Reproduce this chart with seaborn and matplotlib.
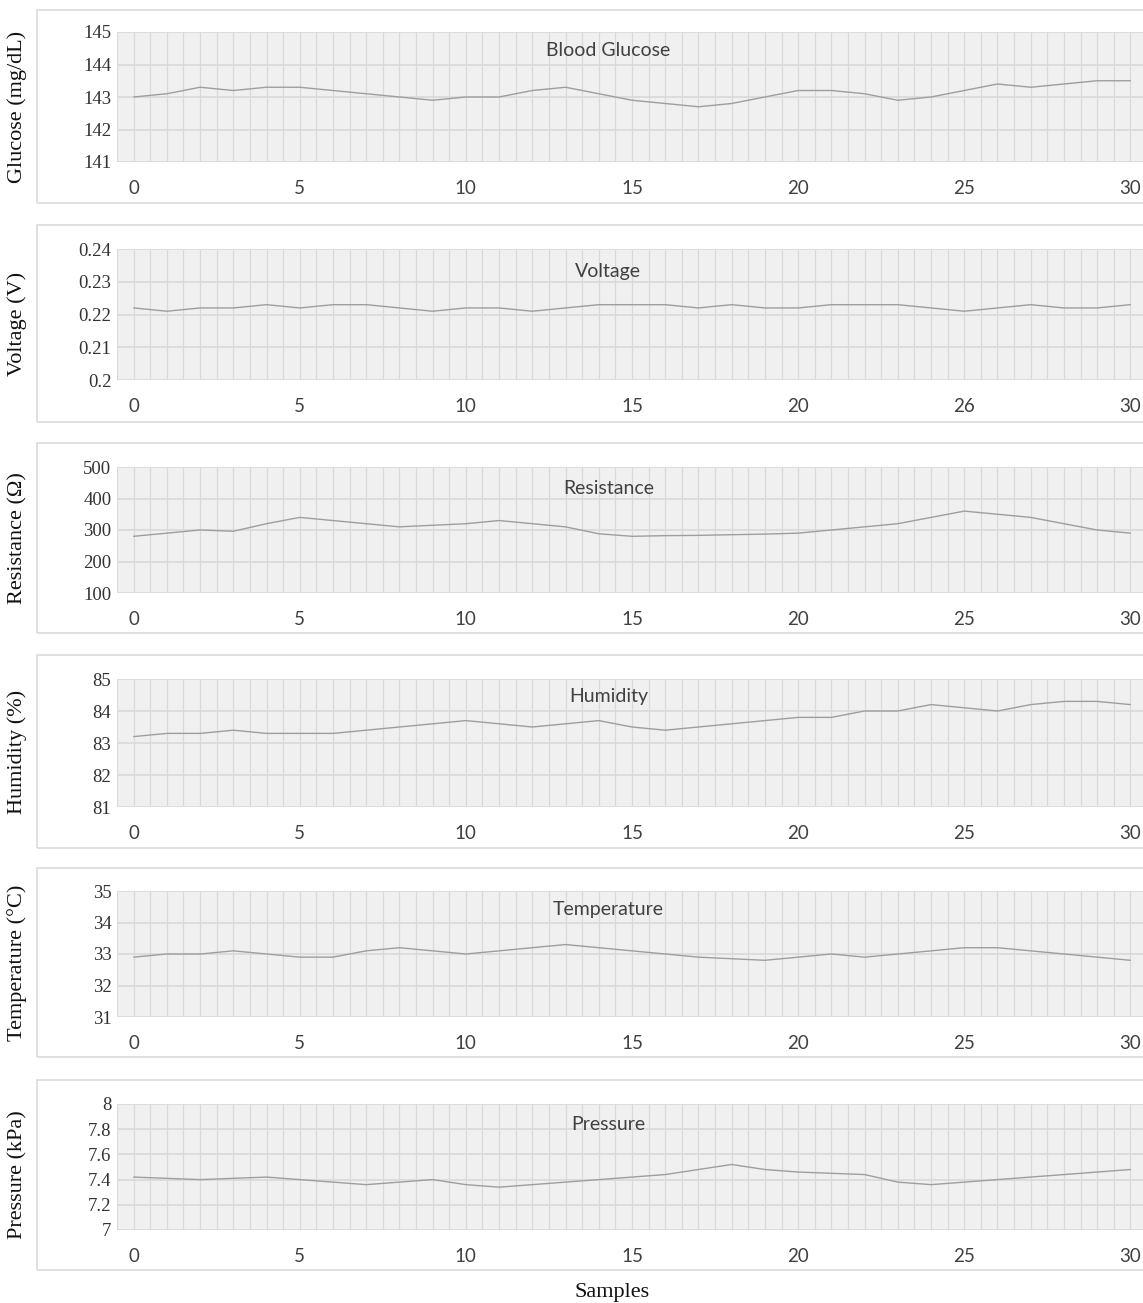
import numpy as np
import pandas as pd
import matplotlib
matplotlib.use("Agg")
import matplotlib.pyplot as plt
from matplotlib.patches import Rectangle
import seaborn as sns

# ---- data -------------------------------------------------------------
samples = list(range(31))

glucose = [143.0, 143.1, 143.3, 143.2, 143.3, 143.3, 143.2, 143.1, 143.0, 142.9,
           143.0, 143.0, 143.2, 143.3, 143.1, 142.9, 142.8, 142.7, 142.8, 143.0,
           143.2, 143.2, 143.1, 142.9, 143.0, 143.2, 143.4, 143.3, 143.4, 143.5, 143.5]
voltage = [0.222, 0.221, 0.222, 0.222, 0.223, 0.222, 0.223, 0.223, 0.222, 0.221,
           0.222, 0.222, 0.221, 0.222, 0.223, 0.223, 0.223, 0.222, 0.223, 0.222,
           0.222, 0.223, 0.223, 0.223, 0.222, 0.221, 0.222, 0.223, 0.222, 0.222, 0.223]
resistance = [280, 290, 300, 296, 320, 340, 330, 320, 310, 315,
              320, 330, 320, 310, 288, 280, 282, 283, 285, 287,
              290, 300, 310, 320, 340, 360, 350, 340, 320, 300, 290]
humidity = [83.2, 83.3, 83.3, 83.4, 83.3, 83.3, 83.3, 83.4, 83.5, 83.6,
            83.7, 83.6, 83.5, 83.6, 83.7, 83.5, 83.4, 83.5, 83.6, 83.7,
            83.8, 83.8, 84.0, 84.0, 84.2, 84.1, 84.0, 84.2, 84.3, 84.3, 84.2]
temperature = [32.9, 33.0, 33.0, 33.1, 33.0, 32.9, 32.9, 33.1, 33.2, 33.1,
               33.0, 33.1, 33.2, 33.3, 33.2, 33.1, 33.0, 32.9, 32.85, 32.8,
               32.9, 33.0, 32.9, 33.0, 33.1, 33.2, 33.2, 33.1, 33.0, 32.9, 32.8]
pressure = [7.42, 7.41, 7.40, 7.41, 7.42, 7.40, 7.38, 7.36, 7.38, 7.40,
            7.36, 7.34, 7.36, 7.38, 7.40, 7.42, 7.44, 7.48, 7.52, 7.48,
            7.46, 7.45, 7.44, 7.38, 7.36, 7.38, 7.40, 7.42, 7.44, 7.46, 7.48]

titles = ["Blood Glucose", "Voltage", "Resistance", "Humidity", "Temperature", "Pressure"]
ylabels = ["Glucose (mg/dL)", "Voltage (V)", "Resistance (\u03a9)", "Humidity (%)",
           "Temperature (\u00b0C)", "Pressure (kPa)"]

glucose_ticks = [141, 142, 143, 144, 145]
voltage_ticks = [0.20, 0.21, 0.22, 0.23, 0.24]
resistance_ticks = [100, 200, 300, 400, 500]
humidity_ticks = [81, 82, 83, 84, 85]
temperature_ticks = [31, 32, 33, 34, 35]
pressure_ticks = [7.0, 7.2, 7.4, 7.6, 7.8, 8.0]

glucose_ticklabels = ["141", "142", "143", "144", "145"]
voltage_ticklabels = ["0.2", "0.21", "0.22", "0.23", "0.24"]
resistance_ticklabels = ["100", "200", "300", "400", "500"]
humidity_ticklabels = ["81", "82", "83", "84", "85"]
temperature_ticklabels = ["31", "32", "33", "34", "35"]
pressure_ticklabels = ["7", "7.2", "7.4", "7.6", "7.8", "8"]

x_ticks = [0, 5, 10, 15, 20, 25, 30]
x_ticklabels = ["0", "5", "10", "15", "20", "25", "30"]
voltage_x_ticklabels = ["0", "5", "10", "15", "20", "26", "30"]

series = [glucose, voltage, resistance, humidity, temperature, pressure]
yticks = [glucose_ticks, voltage_ticks, resistance_ticks, humidity_ticks,
          temperature_ticks, pressure_ticks]
yticklabels = [glucose_ticklabels, voltage_ticklabels, resistance_ticklabels,
               humidity_ticklabels, temperature_ticklabels, pressure_ticklabels]
xticklabels = [x_ticklabels, voltage_x_ticklabels, x_ticklabels, x_ticklabels,
               x_ticklabels, x_ticklabels]

# ---- layout (pixels of a 1143 x 1303 canvas) --------------------------
W, H = 1143, 1303
plot_top = [32, 249, 467, 679, 891, 1104]
plot_bot = [162, 380, 593, 807, 1017, 1230]
box_top = [10, 225, 443, 655, 868, 1080]
box_bot = [203, 422, 633, 848, 1057, 1270]
title_offset = [19, 22, 21, 17, 19, 21]
ax_left, ax_right = 117, 1147

sns.set_theme(style="white")
plt.rcParams["font.family"] = ["DejaVu Sans"]

fig = plt.figure(figsize=(W / 100, H / 100), dpi=100)
fig.patch.set_facecolor("white")

grid_color = "#d9d9d9"
line_color = "#9e9e9e"

for i in range(6):
    # outer frame around each chart
    fig.add_artist(Rectangle((37 / W, 1 - box_bot[i] / H),
                             (W + 10 - 37) / W, (box_bot[i] - box_top[i]) / H,
                             transform=fig.transFigure, fill=False,
                             edgecolor="#dadada", linewidth=1.2, zorder=0))

    height = plot_bot[i] - plot_top[i]
    ax = fig.add_axes([ax_left / W, 1 - plot_bot[i] / H,
                       (ax_right - ax_left) / W, height / H])
    df = pd.DataFrame({"sample": samples, "value": series[i]})
    sns.lineplot(data=df, x="sample", y="value", ax=ax, color=line_color,
                 linewidth=1.0, zorder=3)

    ax.set_facecolor("#f0f0f0")
    for s in ax.spines.values():
        s.set_visible(False)

    ax.set_xlim(-0.5, 30.5)
    ax.set_ylim(yticks[i][0], yticks[i][-1])
    ax.set_xticks(x_ticks, labels=xticklabels[i], fontfamily="Lato",
                  fontsize=13.5, color="#404040")
    ax.set_xticks(np.arange(-0.5, 30.6, 0.5), minor=True)
    ax.set_yticks(yticks[i], labels=yticklabels[i], fontfamily="Liberation Serif",
                  fontsize=13.5, color="#333333")
    ax.tick_params(axis="x", which="both", length=0, pad=13)
    ax.tick_params(axis="y", which="both", length=0, pad=4)
    ax.grid(True, axis="x", which="both", color=grid_color, linewidth=0.9)
    ax.grid(True, axis="y", which="major", color=grid_color, linewidth=1.2)
    ax.set_axisbelow(True)

    ax.set_xlabel("")
    ax.set_ylabel(ylabels[i], fontfamily="Liberation Serif", fontsize=16,
                  color="#111111")
    center = (box_top[i] + box_bot[i]) / 2
    ax.yaxis.set_label_coords((27 - ax_left) / (ax_right - ax_left),
                              (plot_bot[i] - center) / height)

    ax.text(0.477, (height - title_offset[i]) / height,
            titles[i], transform=ax.transAxes, ha="center", va="center",
            fontfamily="Lato", fontsize=14, color="#404040", zorder=4)

fig.text(612 / W, 1 - 1293 / H, "Samples", ha="center", va="center",
         fontfamily="Liberation Serif", fontsize=16, color="#111111")

fig.savefig("out.png", dpi=100)
